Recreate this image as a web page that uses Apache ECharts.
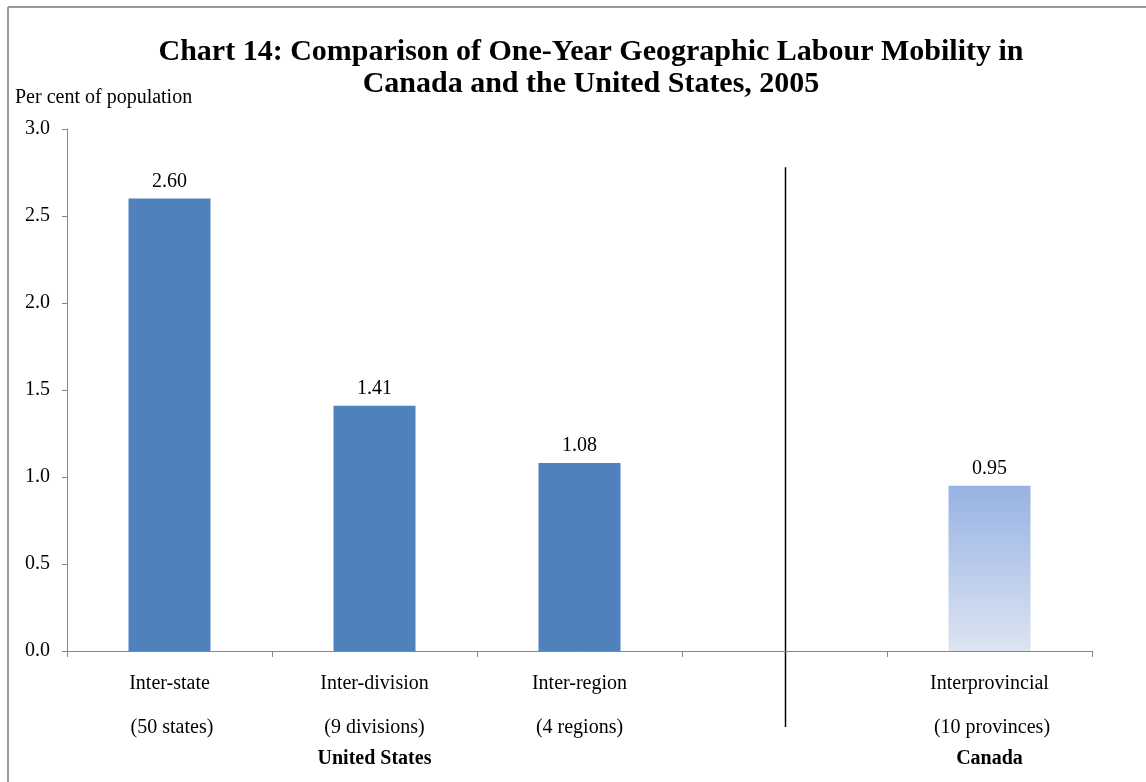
<!DOCTYPE html>
<html>
<head>
<meta charset="utf-8">
<title>Chart 14</title>
<script src="https://cdn.jsdelivr.net/npm/echarts@6/dist/echarts.min.js"></script>
<style>
  html, body { margin: 0; padding: 0; background: #ffffff; }
  #chart { width: 1146px; height: 782px; }
</style>
</head>
<body>
<div id="chart"></div>
<script>
// Mobility categories (the blank slot separates the two countries)
const categories = ['Inter-state', 'Inter-division', 'Inter-region', '', 'Interprovincial'];
const subLabels = [' (50 states)', '(9 divisions)', '(4 regions)', '', ' (10 provinces)'];
// One-year mobility, per cent of population
const usValues = [2.60, 1.41, 1.08, null, null];
const canadaValues = [null, null, null, null, 0.95];
// Value axis ticks
const yTicks = [0, 0.5, 1.0, 1.5, 2.0, 2.5, 3.0];
// Country groupings placed under the category labels
const groups = [
  { name: 'United States', index: 1 },
  { name: 'Canada', index: 4 }
];
const dividerIndex = 3;
const dividerTop = 2.78;

const FONT = '"Liberation Serif", "Times New Roman", serif';
const FS = 20;

const chart = echarts.init(document.getElementById('chart'));

const labelStyle = {
  show: true,
  position: 'top',
  distance: 7,
  fontFamily: FONT,
  fontSize: FS,
  color: '#000',
  formatter: p => (p.value == null ? '' : p.value.toFixed(2))
};

chart.setOption({
  animation: false,
  backgroundColor: '#ffffff',
  title: {
    text: 'Chart 14: Comparison of One-Year Geographic Labour Mobility in\nCanada and the United States, 2005',
    left: 586,
    textAlign: 'center',
    top: 31,
    textStyle: {
      fontFamily: FONT,
      fontWeight: 'bold',
      fontSize: 30,
      lineHeight: 32,
      color: '#000'
    }
  },
  grid: { left: 67, right: 54, top: 129, bottom: 131, containLabel: false },
  xAxis: {
    type: 'category',
    data: categories,
    axisLine: { lineStyle: { color: '#868686', width: 1 } },
    axisTick: { show: true, length: 6, lineStyle: { color: '#868686' }, alignWithLabel: false },
    axisLabel: {
      margin: 18,
      interval: 0,
      formatter: (v, i) => (v ? '{a|' + v + '}\n{b|' + subLabels[i] + '}' : ''),
      rich: {
        a: { fontFamily: FONT, fontSize: FS, color: '#000', lineHeight: 30 },
        b: { fontFamily: FONT, fontSize: FS, color: '#000', lineHeight: 58 }
      }
    },
    splitLine: { show: false }
  },
  yAxis: {
    type: 'value',
    min: yTicks[0],
    max: yTicks[yTicks.length - 1],
    interval: yTicks[1] - yTicks[0],
    name: 'Per cent of population',
    nameLocation: 'end',
    nameGap: 21,
    nameTextStyle: { fontFamily: FONT, fontSize: FS, color: '#000', align: 'left', padding: [0, 0, 0, -52] },
    axisLine: { show: true, lineStyle: { color: '#868686', width: 1 } },
    axisTick: { show: true, length: 5, lineStyle: { color: '#868686' } },
    axisLabel: {
      margin: 17,
      fontFamily: FONT,
      fontSize: FS,
      color: '#000',
      formatter: v => v.toFixed(1)
    },
    splitLine: { show: false }
  },
  series: [
    {
      name: 'United States',
      type: 'bar',
      data: usValues,
      barWidth: '40%',
      barGap: '-100%',
      itemStyle: { color: '#4F81BD' },
      label: labelStyle
    },
    {
      name: 'Canada',
      type: 'bar',
      data: canadaValues,
      barWidth: '40%',
      barGap: '-100%',
      itemStyle: {
        color: new echarts.graphic.LinearGradient(0, 0, 0, 1, [
          { offset: 0, color: '#97B3E3' },
          { offset: 1, color: '#DDE4F2' }
        ])
      },
      label: labelStyle
    }
  ]
});

// Divider between countries, frame edges and group captions
function drawExtras() {
  const xDiv = chart.convertToPixel({ xAxisIndex: 0 }, dividerIndex);
  const yDivTop = chart.convertToPixel({ yAxisIndex: 0 }, dividerTop);
  const yZero = chart.convertToPixel({ yAxisIndex: 0 }, 0);
  const elements = [
    {
      type: 'line',
      shape: { x1: 8, y1: 7, x2: 1146, y2: 7 },
      style: { stroke: '#9a9a9a', lineWidth: 2 }
    },
    {
      type: 'line',
      shape: { x1: 8, y1: 7, x2: 8, y2: 782 },
      style: { stroke: '#9a9a9a', lineWidth: 2 }
    },
    {
      type: 'line',
      shape: { x1: Math.round(xDiv) + 0.5, y1: yDivTop, x2: Math.round(xDiv) + 0.5, y2: yZero + 76 },
      style: { stroke: '#000', lineWidth: 1.5 }
    }
  ];
  groups.forEach(g => {
    elements.push({
      type: 'text',
      x: chart.convertToPixel({ xAxisIndex: 0 }, g.index),
      y: 759,
      style: {
        text: g.name,
        fontFamily: FONT,
        fontWeight: 'bold',
        fontSize: FS,
        fill: '#000',
        align: 'center',
        verticalAlign: 'middle'
      }
    });
  });
  chart.setOption({ graphic: elements });
}
drawExtras();
</script>
</body>
</html>
